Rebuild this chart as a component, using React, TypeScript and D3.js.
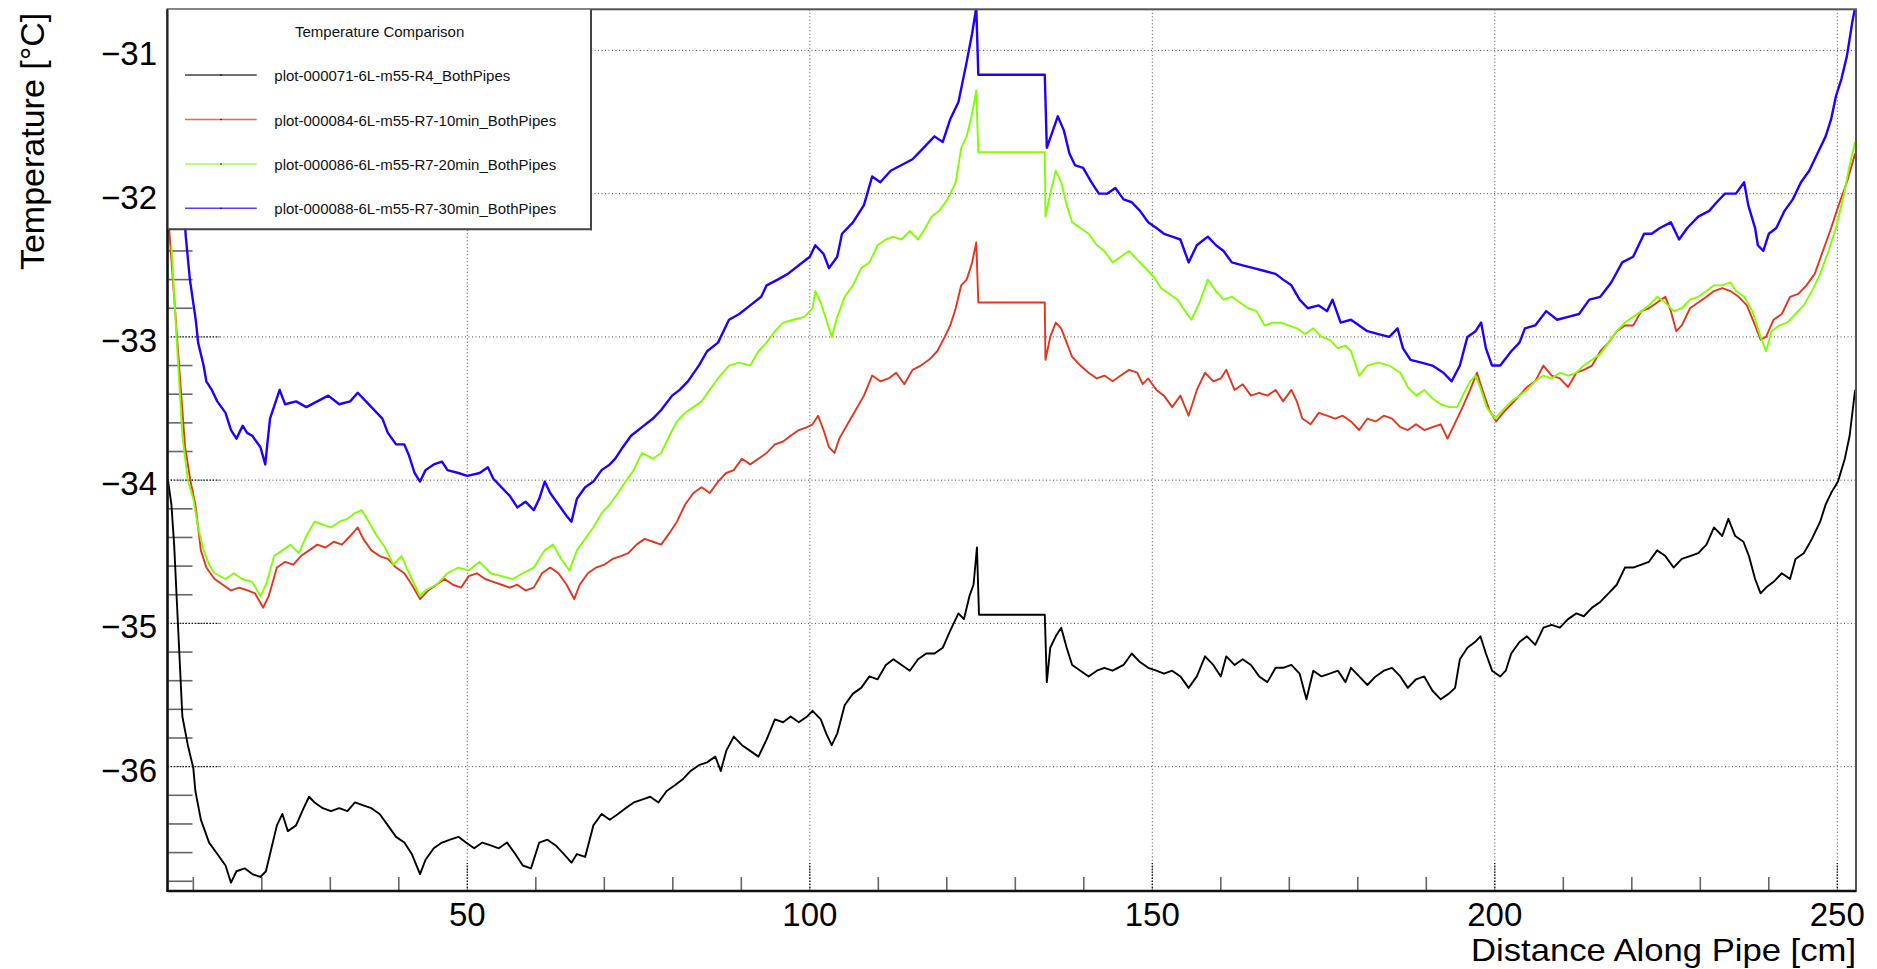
import * as d3 from "d3";

// ---- data ----
const xTicks = [50, 100, 150, 200, 250];
const yTicks = [-31, -32, -33, -34, -35, -36];

const seriesNames = [
  "plot-000071-6L-m55-R4_BothPipes",
  "plot-000084-6L-m55-R7-10min_BothPipes",
  "plot-000086-6L-m55-R7-20min_BothPipes",
  "plot-000088-6L-m55-R7-30min_BothPipes",
];
const seriesColors = ["#000000", "#e2361e", "#80ff00", "#2000ff"];

const black: [number, number][] = [
  [6.3,-34.0],[6.8,-34.17],[7.2,-34.45],[7.6,-34.85],[8.0,-35.25],[8.4,-35.65],[9.2,-35.85],[10.0,-36.01],[10.3,-36.17],[11.1,-36.37],
  [12.3,-36.53],[13.5,-36.61],[14.7,-36.69],[15.5,-36.81],[16.3,-36.73],[17.5,-36.71],[18.6,-36.75],[19.8,-36.77],[20.6,-36.73],[21.4,-36.57],
  [22.2,-36.41],[23.0,-36.33],[23.8,-36.45],[25.0,-36.41],[26.1,-36.29],[26.9,-36.21],[27.7,-36.25],[28.9,-36.29],[30.1,-36.31],[31.3,-36.29],
  [32.5,-36.31],[33.6,-36.25],[34.8,-36.27],[36.0,-36.29],[37.2,-36.33],[38.4,-36.41],[39.6,-36.49],[40.8,-36.53],[41.9,-36.61],[43.1,-36.75],
  [43.9,-36.65],[45.1,-36.57],[46.3,-36.53],[47.5,-36.51],[48.7,-36.49],[49.8,-36.53],[51.0,-36.57],[52.2,-36.53],[53.4,-36.55],[54.6,-36.57],
  [55.8,-36.53],[57.0,-36.61],[58.1,-36.69],[59.3,-36.71],[60.5,-36.53],[61.7,-36.51],[62.9,-36.55],[64.1,-36.61],[65.2,-36.67],[66.0,-36.61],
  [67.2,-36.63],[68.4,-36.41],[69.6,-36.33],[70.8,-36.37],[72.0,-36.33],[73.1,-36.29],[74.3,-36.25],[75.5,-36.23],[76.7,-36.21],[77.9,-36.25],
  [79.1,-36.17],[80.3,-36.13],[81.4,-36.09],[82.6,-36.03],[83.8,-35.99],[85.0,-35.97],[86.2,-35.93],[87.0,-36.03],[87.8,-35.89],[88.9,-35.79],
  [90.1,-35.85],[91.3,-35.89],[92.5,-35.93],[93.7,-35.81],[94.9,-35.67],[96.1,-35.69],[97.2,-35.65],[98.4,-35.69],[99.6,-35.65],[100.4,-35.61],
  [101.6,-35.67],[102.4,-35.77],[103.2,-35.85],[104.0,-35.77],[105.1,-35.57],[106.3,-35.49],[107.5,-35.45],[108.7,-35.37],[109.9,-35.39],[111.1,-35.29],
  [112.2,-35.25],[113.4,-35.29],[114.6,-35.33],[115.8,-35.25],[117.0,-35.21],[118.2,-35.21],[119.4,-35.17],[120.5,-35.05],[121.7,-34.93],[122.5,-34.97],
  [123.3,-34.81],[123.9,-34.73],[124.4,-34.47],[124.7,-34.94],[134.3,-34.94],[134.6,-35.41],[135.1,-35.17],[135.9,-35.09],[136.7,-35.03],[137.5,-35.17],
  [138.3,-35.29],[139.5,-35.33],[140.7,-35.37],[141.9,-35.33],[143.0,-35.31],[144.2,-35.33],[145.8,-35.29],[147.0,-35.21],[148.2,-35.27],[149.4,-35.31],
  [150.6,-35.33],[151.7,-35.35],[152.9,-35.33],[154.1,-35.37],[155.3,-35.45],[156.5,-35.37],[157.7,-35.23],[158.9,-35.29],[160.0,-35.37],[160.8,-35.23],
  [162.0,-35.29],[163.2,-35.25],[164.4,-35.29],[165.6,-35.37],[166.8,-35.41],[168.0,-35.31],[169.1,-35.31],[170.3,-35.29],[171.5,-35.35],[172.5,-35.53],
  [173.5,-35.33],[174.7,-35.37],[175.9,-35.35],[177.1,-35.33],[178.2,-35.41],[179.0,-35.31],[180.2,-35.37],[181.4,-35.43],[182.6,-35.37],[183.8,-35.33],
  [185.0,-35.31],[186.2,-35.37],[187.3,-35.45],[188.5,-35.39],[189.7,-35.37],[190.9,-35.47],[192.1,-35.53],[193.3,-35.49],[194.2,-35.45],[194.9,-35.25],
  [196.0,-35.17],[197.1,-35.13],[197.9,-35.09],[198.7,-35.21],[199.6,-35.33],[200.8,-35.37],[201.6,-35.33],[202.4,-35.21],[203.6,-35.13],[204.7,-35.09],
  [205.9,-35.15],[207.1,-35.03],[208.3,-35.01],[209.5,-35.03],[210.7,-34.97],[211.9,-34.93],[213.0,-34.95],[214.2,-34.89],[215.4,-34.85],[216.6,-34.79],
  [217.8,-34.73],[219.0,-34.61],[220.2,-34.61],[221.4,-34.59],[222.5,-34.57],[223.7,-34.49],[224.9,-34.53],[226.1,-34.61],[227.3,-34.55],[228.5,-34.53],
  [229.7,-34.51],[230.9,-34.45],[232.0,-34.33],[233.2,-34.39],[234.1,-34.27],[235.1,-34.39],[236.3,-34.43],[237.1,-34.53],[238.0,-34.69],[238.8,-34.79],
  [239.6,-34.75],[240.7,-34.71],[241.9,-34.65],[243.1,-34.69],[243.9,-34.55],[245.1,-34.51],[246.3,-34.41],[247.5,-34.29],[248.3,-34.17],[249.1,-34.09],
  [250.1,-34.01],[251.1,-33.85],[251.8,-33.69],[252.6,-33.37],
];

const red: [number, number][] = [
  [6.4,-32.2],[7.2,-32.72],[8.0,-33.25],[8.8,-33.77],[9.6,-34.01],[10.3,-34.17],[11.1,-34.49],[11.9,-34.61],[13.1,-34.69],[14.3,-34.73],
  [15.5,-34.77],[16.7,-34.75],[17.9,-34.77],[19.0,-34.79],[20.2,-34.89],[21.0,-34.81],[22.2,-34.61],[23.4,-34.57],[24.6,-34.59],[25.7,-34.53],
  [26.9,-34.49],[28.1,-34.45],[29.3,-34.47],[30.5,-34.43],[31.7,-34.45],[32.9,-34.39],[34.0,-34.33],[34.8,-34.41],[36.0,-34.49],[37.2,-34.53],
  [38.4,-34.55],[39.6,-34.61],[40.8,-34.65],[41.9,-34.73],[43.1,-34.83],[44.3,-34.77],[45.5,-34.73],[46.7,-34.69],[47.9,-34.73],[49.1,-34.75],
  [50.2,-34.67],[51.4,-34.65],[52.6,-34.69],[53.8,-34.71],[55.0,-34.73],[56.2,-34.75],[57.3,-34.73],[58.5,-34.77],[59.7,-34.75],[60.9,-34.65],
  [62.1,-34.61],[63.3,-34.65],[64.5,-34.73],[65.6,-34.83],[66.4,-34.73],[67.6,-34.65],[68.8,-34.61],[70.0,-34.59],[71.2,-34.55],[72.4,-34.53],
  [73.5,-34.51],[74.7,-34.45],[75.9,-34.41],[77.1,-34.43],[78.3,-34.45],[79.5,-34.37],[80.6,-34.29],[81.8,-34.17],[83.0,-34.09],[84.2,-34.05],
  [85.4,-34.09],[86.6,-34.01],[87.8,-33.95],[88.9,-33.93],[90.1,-33.85],[91.3,-33.89],[92.5,-33.85],[93.7,-33.81],[94.9,-33.75],[96.1,-33.73],
  [97.2,-33.69],[98.4,-33.65],[99.6,-33.63],[100.4,-33.61],[101.2,-33.55],[102.0,-33.65],[102.8,-33.77],[103.6,-33.81],[104.3,-33.71],[105.5,-33.61],
  [106.7,-33.51],[107.9,-33.41],[109.1,-33.27],[110.3,-33.31],[111.5,-33.29],[112.6,-33.25],[113.8,-33.33],[115.0,-33.23],[116.2,-33.2],[117.4,-33.16],
  [118.6,-33.1],[119.7,-33.0],[120.5,-32.92],[121.3,-32.8],[122.1,-32.64],[122.9,-32.6],[123.7,-32.48],[124.3,-32.34],[124.6,-32.76],[134.3,-32.76],
  [134.4,-33.16],[135.1,-33.0],[135.9,-32.9],[136.7,-32.94],[137.5,-33.04],[138.3,-33.14],[139.5,-33.2],[140.7,-33.25],[141.9,-33.29],[143.0,-33.27],
  [144.2,-33.31],[145.4,-33.27],[146.6,-33.23],[147.8,-33.25],[148.6,-33.33],[149.4,-33.29],[150.6,-33.37],[151.7,-33.41],[152.9,-33.49],[154.1,-33.41],
  [155.3,-33.55],[156.5,-33.37],[157.7,-33.25],[158.9,-33.31],[160.0,-33.29],[160.8,-33.23],[162.0,-33.37],[163.2,-33.33],[164.4,-33.41],[165.6,-33.39],
  [166.8,-33.41],[168.0,-33.37],[169.1,-33.45],[170.3,-33.37],[171.1,-33.45],[171.9,-33.57],[173.1,-33.61],[174.3,-33.53],[175.5,-33.55],[176.7,-33.57],
  [177.8,-33.55],[179.0,-33.59],[180.2,-33.65],[181.4,-33.57],[182.6,-33.59],[183.8,-33.55],[185.0,-33.57],[186.2,-33.63],[187.3,-33.65],[188.5,-33.61],
  [189.7,-33.65],[190.9,-33.63],[192.1,-33.61],[193.1,-33.71],[194.1,-33.61],[195.3,-33.49],[196.4,-33.37],[197.4,-33.25],[198.2,-33.37],[199.2,-33.51],
  [200.2,-33.59],[201.2,-33.53],[202.4,-33.47],[203.6,-33.41],[204.7,-33.35],[205.9,-33.31],[207.1,-33.2],[208.3,-33.27],[209.5,-33.29],[210.7,-33.35],
  [211.9,-33.25],[213.0,-33.23],[214.2,-33.2],[215.4,-33.1],[216.6,-33.04],[217.8,-32.96],[219.0,-32.92],[220.2,-32.92],[221.4,-32.82],[222.5,-32.8],
  [223.7,-32.76],[224.9,-32.72],[225.7,-32.82],[226.5,-32.96],[227.3,-32.92],[228.5,-32.8],[229.7,-32.76],[230.9,-32.72],[232.0,-32.68],[233.2,-32.66],
  [234.4,-32.68],[235.6,-32.72],[236.8,-32.78],[238.0,-32.92],[238.8,-33.02],[239.6,-33.0],[240.7,-32.88],[241.9,-32.84],[243.1,-32.72],[244.3,-32.7],
  [245.5,-32.64],[246.7,-32.56],[247.9,-32.4],[249.1,-32.24],[250.2,-32.08],[251.4,-31.92],[252.6,-31.72],
];

const green: [number, number][] = [
  [6.8,-32.36],[7.6,-33.04],[8.4,-33.69],[9.2,-34.0],[10.0,-34.13],[10.7,-34.33],[11.5,-34.49],[12.3,-34.59],[13.1,-34.65],[14.7,-34.69],
  [15.9,-34.65],[17.1,-34.69],[18.6,-34.71],[19.8,-34.81],[20.6,-34.73],[21.8,-34.53],[23.0,-34.49],[24.2,-34.45],[25.4,-34.51],[26.5,-34.39],
  [27.7,-34.29],[28.9,-34.31],[30.1,-34.33],[31.3,-34.29],[32.5,-34.27],[33.6,-34.23],[34.6,-34.21],[35.6,-34.29],[36.8,-34.39],[38.0,-34.47],
  [39.2,-34.59],[40.4,-34.53],[41.5,-34.65],[42.3,-34.73],[43.1,-34.81],[43.9,-34.77],[45.5,-34.73],[47.1,-34.65],[48.7,-34.61],[50.2,-34.63],
  [51.8,-34.57],[53.4,-34.65],[55.0,-34.67],[56.6,-34.69],[58.1,-34.65],[59.7,-34.61],[61.3,-34.49],[62.5,-34.45],[63.7,-34.55],[64.9,-34.63],
  [66.0,-34.49],[67.2,-34.41],[68.4,-34.33],[69.6,-34.23],[70.8,-34.17],[72.0,-34.09],[73.1,-34.01],[74.3,-33.93],[75.5,-33.81],[77.1,-33.85],
  [78.3,-33.81],[79.5,-33.69],[80.6,-33.59],[81.8,-33.53],[83.0,-33.49],[84.2,-33.45],[85.4,-33.37],[86.6,-33.29],[88.2,-33.2],[89.7,-33.18],
  [91.3,-33.2],[92.5,-33.1],[93.7,-33.04],[94.9,-32.96],[96.1,-32.9],[97.6,-32.88],[99.2,-32.86],[100.4,-32.8],[100.8,-32.68],[101.6,-32.76],
  [102.4,-32.88],[103.2,-33.0],[104.0,-32.86],[105.1,-32.72],[106.3,-32.64],[107.5,-32.52],[108.7,-32.48],[109.9,-32.36],[111.1,-32.32],[112.2,-32.3],
  [113.4,-32.32],[114.6,-32.26],[115.8,-32.32],[116.6,-32.26],[117.8,-32.16],[118.9,-32.12],[120.1,-32.04],[121.3,-31.92],[122.1,-31.68],[122.9,-31.6],
  [123.7,-31.44],[124.3,-31.28],[124.6,-31.71],[134.3,-31.71],[134.4,-32.16],[135.1,-32.0],[135.9,-31.84],[136.7,-31.92],[137.5,-32.08],[138.3,-32.2],
  [139.5,-32.24],[140.7,-32.28],[141.9,-32.36],[143.0,-32.4],[144.2,-32.48],[145.4,-32.44],[146.6,-32.4],[147.8,-32.46],[149.0,-32.52],[150.2,-32.58],
  [151.3,-32.66],[152.5,-32.7],[153.7,-32.74],[154.5,-32.8],[155.7,-32.88],[156.9,-32.76],[158.1,-32.6],[159.3,-32.68],[160.4,-32.74],[161.6,-32.72],
  [162.8,-32.76],[164.0,-32.8],[165.2,-32.82],[166.4,-32.92],[167.6,-32.9],[168.8,-32.9],[169.9,-32.92],[171.1,-32.94],[172.3,-32.98],[173.5,-32.94],
  [174.7,-33.0],[175.9,-33.02],[177.1,-33.08],[178.2,-33.06],[179.0,-33.1],[180.2,-33.27],[181.4,-33.2],[183.0,-33.18],[184.6,-33.2],[186.2,-33.25],
  [187.3,-33.35],[188.5,-33.41],[189.7,-33.37],[190.9,-33.43],[192.1,-33.47],[193.3,-33.49],[194.5,-33.49],[195.3,-33.41],[196.4,-33.31],[197.2,-33.27],
  [198.0,-33.37],[198.8,-33.49],[200.0,-33.57],[201.2,-33.51],[202.4,-33.45],[203.6,-33.41],[204.7,-33.37],[205.9,-33.31],[207.1,-33.27],[208.3,-33.29],
  [209.5,-33.25],[210.7,-33.27],[211.9,-33.25],[213.0,-33.2],[214.2,-33.16],[215.4,-33.12],[216.6,-33.04],[217.8,-32.96],[219.0,-32.9],[220.2,-32.86],
  [221.4,-32.82],[222.5,-32.78],[223.7,-32.72],[224.9,-32.76],[226.1,-32.82],[227.3,-32.8],[228.5,-32.74],[229.7,-32.72],[230.9,-32.68],[232.0,-32.64],
  [233.2,-32.64],[234.4,-32.62],[235.2,-32.68],[236.4,-32.72],[237.6,-32.82],[238.8,-33.0],[239.6,-33.1],[240.4,-32.96],[241.5,-32.92],[242.7,-32.9],
  [243.9,-32.84],[245.1,-32.78],[246.3,-32.68],[247.5,-32.56],[248.7,-32.4],[249.8,-32.24],[251.0,-32.0],[251.8,-31.8],[252.6,-31.64],
];

const blue: [number, number][] = [
  [6.3,-31.2],[8.3,-31.9],[8.9,-32.3],[9.5,-32.6],[10.35,-32.88],[10.7,-33.04],[11.5,-33.2],[11.9,-33.31],[12.7,-33.37],[13.5,-33.45],
  [14.7,-33.53],[15.5,-33.65],[16.3,-33.71],[17.2,-33.62],[17.85,-33.67],[18.6,-33.69],[19.8,-33.77],[20.5,-33.89],[20.8,-33.75],[21.2,-33.57],
  [22.6,-33.37],[23.4,-33.47],[25.0,-33.45],[26.5,-33.49],[28.1,-33.45],[29.7,-33.41],[31.3,-33.47],[32.9,-33.45],[34.0,-33.39],[35.2,-33.45],
  [36.8,-33.53],[37.6,-33.57],[38.4,-33.67],[39.6,-33.75],[40.8,-33.75],[41.5,-33.83],[42.3,-33.95],[43.1,-34.01],[43.9,-33.93],[45.1,-33.89],
  [46.3,-33.87],[47.1,-33.93],[48.7,-33.95],[50.0,-33.97],[51.8,-33.95],[53.0,-33.91],[53.8,-33.99],[55.0,-34.05],[56.2,-34.11],[57.3,-34.19],
  [58.5,-34.15],[59.7,-34.21],[60.5,-34.13],[61.3,-34.01],[62.1,-34.09],[63.3,-34.17],[64.5,-34.25],[65.2,-34.29],[66.0,-34.13],[67.2,-34.05],
  [68.4,-34.01],[69.6,-33.93],[70.8,-33.89],[71.6,-33.85],[72.7,-33.77],[73.9,-33.69],[75.5,-33.63],[77.1,-33.57],[78.3,-33.51],[79.9,-33.41],
  [81.0,-33.37],[82.2,-33.31],[83.8,-33.2],[85.0,-33.1],[86.6,-33.04],[88.2,-32.88],[89.7,-32.84],[91.3,-32.78],[92.9,-32.72],[93.7,-32.64],
  [95.3,-32.6],[96.8,-32.56],[98.4,-32.5],[100.0,-32.44],[100.8,-32.36],[102.0,-32.42],[102.8,-32.52],[104.0,-32.44],[104.7,-32.28],[106.3,-32.2],
  [107.9,-32.08],[109.1,-31.88],[110.3,-31.92],[111.8,-31.84],[113.4,-31.8],[115.0,-31.76],[116.6,-31.68],[118.2,-31.6],[119.4,-31.64],[120.5,-31.48],
  [121.7,-31.36],[122.9,-31.08],[123.7,-30.88],[124.3,-30.7],[124.6,-31.17],[134.3,-31.17],[134.6,-31.68],[136.2,-31.46],[137.1,-31.56],[137.9,-31.72],
  [138.7,-31.8],[139.9,-31.82],[141.1,-31.92],[142.2,-32.0],[143.4,-32.0],[144.6,-31.96],[145.8,-32.04],[147.0,-32.06],[148.2,-32.12],[149.4,-32.2],
  [150.6,-32.24],[151.7,-32.28],[152.9,-32.3],[154.1,-32.32],[155.3,-32.48],[156.5,-32.36],[158.1,-32.3],[159.3,-32.36],[160.4,-32.4],[161.6,-32.48],
  [163.2,-32.5],[164.8,-32.52],[166.4,-32.54],[168.0,-32.56],[169.1,-32.6],[170.3,-32.64],[171.5,-32.74],[172.7,-32.8],[174.3,-32.78],[175.5,-32.82],
  [176.3,-32.74],[177.5,-32.9],[179.0,-32.88],[180.2,-32.92],[181.4,-32.96],[183.0,-32.98],[184.6,-33.0],[185.8,-32.94],[186.6,-33.08],[187.7,-33.16],
  [189.3,-33.18],[190.9,-33.2],[192.5,-33.25],[193.7,-33.31],[194.9,-33.2],[196.0,-33.0],[197.2,-32.96],[198.0,-32.9],[198.7,-33.08],[199.6,-33.2],
  [200.8,-33.2],[202.4,-33.1],[203.6,-33.04],[204.4,-32.94],[205.9,-32.92],[207.5,-32.82],[209.1,-32.88],[210.7,-32.86],[212.3,-32.84],[213.8,-32.74],
  [215.4,-32.72],[217.0,-32.62],[218.6,-32.48],[220.2,-32.44],[221.8,-32.28],[222.9,-32.28],[224.1,-32.24],[225.7,-32.2],[226.9,-32.32],[228.1,-32.24],
  [229.7,-32.16],[231.3,-32.12],[232.4,-32.06],[233.6,-32.0],[235.2,-32.0],[236.4,-31.92],[237.0,-32.08],[238.0,-32.24],[238.4,-32.36],[239.2,-32.4],
  [240.0,-32.28],[241.1,-32.24],[242.3,-32.12],[243.5,-32.04],[244.7,-31.92],[245.9,-31.84],[247.1,-31.72],[248.3,-31.6],[249.1,-31.48],[249.8,-31.32],
  [250.6,-31.2],[251.4,-31.04],[252.2,-30.8],[252.6,-30.7],
];

const allSeries = [black, red, green, blue];

// ---- layout ----
const W = 1877;
const H = 969;
const F = { left: 167.5, right: 1856, top: 9.3, bottom: 891 };
const FONT = "'Liberation Sans', Arial, Helvetica, sans-serif";

export default function App() {
  const x = d3.scaleLinear().domain([6.23, 252.73]).range([F.left, F.right]);
  const y = d3.scaleLinear().domain([-36.868, -30.713]).range([F.bottom, F.top]);

  const line = d3.line<[number, number]>()
    .x(d => x(d[0]))
    .y(d => y(d[1]));

  const xMinor = d3.range(10, 252, 10).filter(v => v % 50 !== 0);
  const yMinor = d3.range(-36.8, -30.7, 0.2)
    .map(v => Math.round(v * 10) / 10)
    .filter(v => Math.abs(v - Math.round(v)) > 0.01);

  const fmt = (v: number) => (v < 0 ? "\u2212" + Math.abs(v) : String(v));

  // legend geometry
  const L = { x0: 168.3, x1: 591, y0: 9.3, y1: 229.3 };
  const entryY = [75, 119.5, 164, 208.3];

  return (
    <svg
      width={W}
      height={H}
      style={{ position: "absolute", left: 0, top: 0, background: "#fff" }}
      fontFamily={FONT}
    >
      <defs>
        <clipPath id="plotclip">
          <rect x={F.left} y={F.top} width={F.right - F.left} height={F.bottom - F.top} />
        </clipPath>
      </defs>
      <rect x={0} y={0} width={W} height={H} fill="#fff" />

      {/* grid */}
      <g stroke="#000" strokeWidth={1} strokeDasharray="1,2.5" opacity={0.7}>
        {xTicks.map(t => (
          <line key={"gx" + t} x1={x(t)} x2={x(t)} y1={F.top} y2={F.bottom} />
        ))}
        {yTicks.map(t => (
          <line key={"gy" + t} x1={F.left} x2={F.right} y1={y(t)} y2={y(t)} />
        ))}
      </g>

      {/* major ticks, dotted like the grid */}
      <g stroke="#000" strokeWidth={1.4} strokeDasharray="1.5,1.5" opacity={0.85}>
        {xTicks.map(t => (
          <line key={"mx" + t} x1={x(t)} x2={x(t)} y1={F.bottom} y2={F.bottom - 28} />
        ))}
        {yTicks.map(t => (
          <line key={"my" + t} x1={F.left} x2={F.left + 52} y1={y(t)} y2={y(t)} />
        ))}
      </g>

      {/* minor ticks */}
      <g stroke="#666" strokeWidth={1.6}>
        {xMinor.map(t => (
          <line key={"tx" + t} x1={x(t)} x2={x(t)} y1={F.bottom} y2={F.bottom - 14} />
        ))}
        {yMinor.map(t => (
          <line key={"ty" + t} x1={F.left} x2={F.left + 25} y1={y(t)} y2={y(t)} />
        ))}
      </g>

      {/* data */}
      <g clipPath="url(#plotclip)" fill="none" strokeLinejoin="round">
        {allSeries.map((s, i) => (
          <path
            key={seriesNames[i]}
            d={line(s) || ""}
            stroke={seriesColors[i]}
            strokeWidth={i === 3 ? 2.4 : 1.9}
          />
        ))}
      </g>

      {/* frame */}
      <rect
        x={F.left}
        y={F.top}
        width={F.right - F.left}
        height={F.bottom - F.top}
        fill="none"
        stroke="#555"
        strokeWidth={2}
      />
      <line x1={F.left} x2={F.left} y1={F.top} y2={F.bottom + 1} stroke="#111" strokeWidth={2.4} />
      <line x1={F.left} x2={F.right} y1={F.bottom} y2={F.bottom} stroke="#111" strokeWidth={2.4} />

      {/* tick labels */}
      <g fontSize={33} fill="#000">
        {xTicks.map(t => (
          <text key={"lx" + t} x={x(t)} y={926} textAnchor="middle">
            {fmt(t)}
          </text>
        ))}
        {yTicks.map(t => (
          <text key={"ly" + t} x={157} y={y(t) + 15} textAnchor="end">
            {fmt(t)}
          </text>
        ))}
      </g>

      {/* axis titles */}
      <text
        x={F.right}
        y={961}
        textAnchor="end"
        fontSize={32}
        fill="#000"
        textLength={385}
        lengthAdjust="spacingAndGlyphs"
      >
        Distance Along Pipe [cm]
      </text>
      <text
        transform="rotate(-90)"
        x={-12.7}
        y={44}
        textAnchor="end"
        fontSize={34}
        fill="#000"
      >
        Temperature [°C]
      </text>

      {/* legend */}
      <g>
        <rect x={L.x0} y={L.y0} width={L.x1 - L.x0} height={L.y1 - L.y0} fill="#fff" stroke="#777" strokeWidth={1} />
        <line x1={L.x1} x2={L.x1} y1={L.y0} y2={L.y1 + 1} stroke="#444" strokeWidth={2} />
        <line x1={L.x0} x2={L.x1 + 1} y1={L.y1} y2={L.y1} stroke="#444" strokeWidth={2} />
        <text x={(L.x0 + L.x1) / 2} y={37} textAnchor="middle" fontSize={15} fill="#111">
          Temperature Comparison
        </text>
        {seriesNames.map((name, i) => (
          <g key={name}>
            <line x1={185} x2={256.7} y1={entryY[i]} y2={entryY[i]} stroke={seriesColors[i]} strokeWidth={1.4} opacity={0.75} />
            <circle cx={221} cy={entryY[i]} r={0.8} fill="#000" />
            <text x={274.3} y={entryY[i] + 6} fontSize={15} fill="#111">
              {name}
            </text>
          </g>
        ))}
      </g>
    </svg>
  );
}
